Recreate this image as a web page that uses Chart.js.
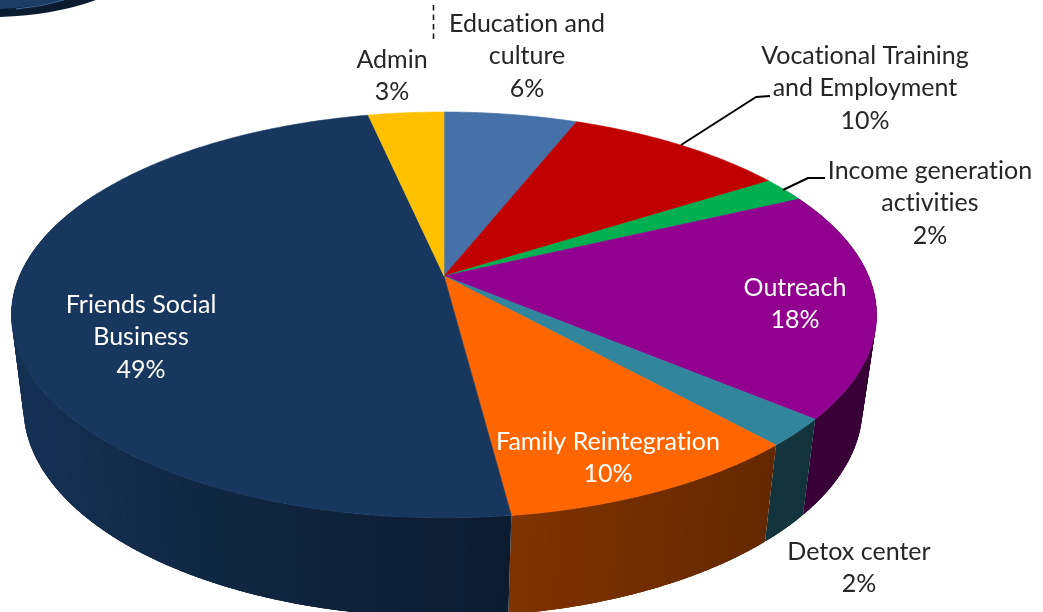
<!DOCTYPE html>
<html>
<head>
<meta charset="utf-8">
<style>html,body{margin:0;padding:0;background:#fff}canvas{display:block}</style>
<script src="https://cdn.jsdelivr.net/npm/chart.js@4"></script>
</head>
<body>
<canvas id="c" width="1043" height="612"></canvas>
<script>
const categories = ["Education and culture","Vocational Training and Employment","Income generation activities","Outreach","Detox center","Family Reintegration","Friends Social Business","Admin"];
const shares = [6, 10, 2, 18.1, 2.2, 9.65, 48.65, 3.4];
const sliceColors = ["#4571a8","#c00000","#00b050","#92008f","#31859c","#ff6600","#17375e","#ffc000"];
const labelLines = [["Education and","culture"],["Vocational Training","and Employment"],["Income generation","activities"],["Outreach"],["Detox center"],["Family Reintegration"],["Friends Social","Business"],["Admin"]];

// layout of the tilted pie (not data)
const labelAnchors = [[527,23.8,"#262626"],[865,55.8,"#262626"],[930,170.8,"#262626"],[795,287.8,"#ffffff"],[859,551.8,"#262626"],[608,441.8,"#ffffff"],[141,304.8,"#ffffff"],[392,59.8,"#262626"]];
const P = {ax:444, ay:276, a:424.5, b:195.5, k:-0.192, tx:444, ty:315, trx:433, try_:203, bx:443, by:407, brx:420, bry:210};

function project(al){
  const X=Math.cos(al),Y=Math.sin(al),w=1+P.k*Y;
  return [P.ax+P.a*X/w, P.ay+P.b*Y/w];
}
function lower(p){
  const u=(p[0]-P.tx)/P.trx, v=(p[1]-P.ty)/P.try_;
  return [P.bx+P.brx*u, P.by+P.bry*v];
}
function shade(hex,x){
  const stops=[[0,.9],[30,.88],[200,.72],[510,.5],[770,.39],[900,.38]];
  let f=.38;
  for(let i=0;i<stops.length-1;i++){
    if(x>=stops[i][0]&&x<=stops[i+1][0]){
      const t=(x-stops[i][0])/(stops[i+1][0]-stops[i][0]);
      f=stops[i][1]+t*(stops[i+1][1]-stops[i][1]);
    }
  }
  const n=parseInt(hex.slice(1),16);
  return `rgb(${Math.round((n>>16&255)*f)},${Math.round((n>>8&255)*f)},${Math.round((n&255)*f)})`;
}

Chart.ArcElement.prototype.draw=function(ctx){
  const s=this.startAngle,e=this.endAngle,n=Math.max(4,Math.ceil((e-s)/0.01));
  ctx.save();
  ctx.beginPath();
  ctx.moveTo(P.ax,P.ay);
  for(let i=0;i<=n;i++){const p=project(s+(e-s)*i/n);ctx.lineTo(p[0],p[1]);}
  ctx.closePath();
  ctx.fillStyle=this.options.backgroundColor;
  ctx.strokeStyle=this.options.backgroundColor;
  ctx.lineWidth=.6;
  ctx.fill();ctx.stroke();
  ctx.restore();
};

const sidesPlugin={
  id:'sides',
  beforeDatasetsDraw(chart){
    const ctx=chart.ctx,arcs=chart.getDatasetMeta(0).data,quads=[];
    arcs.forEach((el,idx)=>{
      const s=el.startAngle,e=el.endAngle,n=Math.max(2,Math.ceil((e-s)/0.02));
      for(let i=0;i<n;i++){
        const a0=s+(e-s)*i/n,a1=s+(e-s)*(i+1)/n,mid=(a0+a1)/2;
        if(Math.sin(mid)<-0.45)continue;
        // each strip reaches into its neighbours inside the slice so no seams show
        const grow=(e-s)/n*0.9;
        const a0b=Math.max(s,a0-grow),a1b=Math.min(e,a1+grow);
        const pts=[];
        for(let t=0;t<=4;t++)pts.push(project(a0b+(a1b-a0b)*t/4));
        quads.push({pts,idx,mx:project(mid)[0],order:Math.sin(mid)});
      }
    });
    quads.sort((a,b)=>a.order-b.order);
    ctx.save();
    for(const q of quads){
      ctx.beginPath();
      q.pts.forEach((p,i)=>i?ctx.lineTo(p[0],p[1]):ctx.moveTo(p[0],p[1]));
      for(let i=q.pts.length-1;i>=0;i--){const l=lower(q.pts[i]);ctx.lineTo(l[0],l[1]);}
      ctx.closePath();
      ctx.fillStyle=shade(sliceColors[q.idx],q.mx);
      ctx.fill();
    }
    ctx.restore();
  }
};

const decorPlugin={
  id:'decor',
  beforeDraw(chart){
    const ctx=chart.ctx;
    ctx.save();
    ctx.fillStyle='#fff';ctx.fillRect(0,0,chart.width,chart.height);
    // edge of the neighbouring figure, top left
    ctx.fillStyle='#0b1c30';
    ctx.beginPath();ctx.moveTo(0,0);ctx.lineTo(96,0);ctx.quadraticCurveTo(55,15,0,17);ctx.closePath();ctx.fill();
    ctx.fillStyle='#1c3d66';
    ctx.beginPath();ctx.moveTo(0,0);ctx.lineTo(64,0);ctx.quadraticCurveTo(30,8,0,9);ctx.closePath();ctx.fill();
    ctx.strokeStyle='#44699a';ctx.lineWidth=1;
    ctx.beginPath();ctx.moveTo(16,9);ctx.quadraticCurveTo(40,7,64,0);ctx.stroke();
    // dashed divider
    ctx.strokeStyle='#1a1a1a';ctx.lineWidth=1.6;ctx.setLineDash([5.5,4]);
    ctx.beginPath();ctx.moveTo(433.5,5);ctx.lineTo(433.5,40);ctx.stroke();
    ctx.restore();
  }
};

const labelPlugin={
  id:'labels3d',
  afterDatasetsDraw(chart){
    const ctx=chart.ctx;
    ctx.save();
    ctx.strokeStyle='#000';ctx.lineWidth=2;ctx.lineJoin='round';
    ctx.beginPath();ctx.moveTo(681,145);ctx.lineTo(756,97);ctx.lineTo(770,96);ctx.stroke();
    ctx.beginPath();ctx.moveTo(783,190);ctx.lineTo(808,178);ctx.lineTo(825,178);ctx.stroke();
    ctx.font='25px Lato';
    ctx.letterSpacing='0.01px';
    ctx.textAlign='center';ctx.textBaseline='middle';
    const total=shares.reduce((a,b)=>a+b,0);
    categories.forEach((_,i)=>{
      const [x,y,col]=labelAnchors[i];
      ctx.fillStyle=col;
      const lines=[...labelLines[i],Math.round(shares[i]/total*100)+"%"];
      lines.forEach((t,j)=>ctx.fillText(t,x,y+j*32.4));
    });
    ctx.restore();
  }
};

new Chart(document.getElementById('c'),{
  type:'pie',
  data:{labels:categories,datasets:[{data:shares,backgroundColor:sliceColors,borderWidth:0}]},
  options:{
    responsive:false,animation:false,
    layout:{padding:0},
    plugins:{legend:{display:false},tooltip:{enabled:false}}
  },
  plugins:[decorPlugin,sidesPlugin,labelPlugin]
});
</script>
</body>
</html>
